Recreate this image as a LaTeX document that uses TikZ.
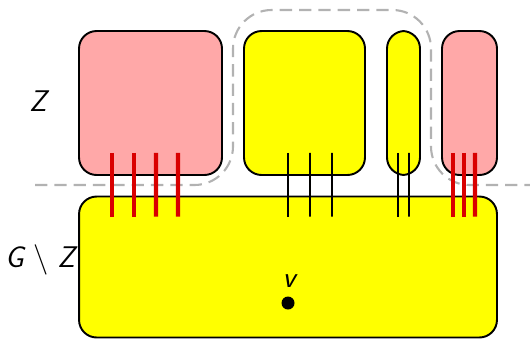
\documentclass[tikz,border=0pt]{standalone}
\usetikzlibrary{calc}
\definecolor{partyellow}{RGB}{255,255,0}
\definecolor{partpink}{RGB}{255,168,168}
\begin{document}
\begin{tikzpicture}[x=0.02cm,y=-0.02cm,
  every node/.style={font=\fontsize{17}{19}\selectfont\sffamily\itshape},
  part/.style={draw,line width=1.1pt,rounded corners=10pt,inner sep=0pt},
  redlink/.style={draw=red!85!black,line width=2.4pt},
  blacklink/.style={draw=black,line width=1pt}]
\useasboundingbox (0,0) rectangle (530,339);
% the big rest of the graph
\node[part,fill=partyellow,minimum width=8.36cm,minimum height=2.82cm] (rest) at (288,267) {};
% the parts of Z
\node[part,fill=partpink,minimum width=2.86cm,minimum height=2.88cm] (zA) at (150.5,103) {};
\node[part,fill=partyellow,minimum width=2.42cm,minimum height=2.88cm] (zB) at (304.5,103) {};
\node[part,fill=partyellow,minimum width=0.66cm,minimum height=2.88cm] (zC) at (403.5,103) {};
\node[part,fill=partpink,minimum width=1.10cm,minimum height=2.88cm] (zD) at (469.5,103) {};
% separator
\draw[gray!60,line width=1.2pt,dash pattern=on 7pt off 4pt,rounded corners=22pt]
  (35,185) -- (233,185) -- (233,10) -- (431,10) -- (431,185) -- (530,185);
% links between the parts
\foreach \dx in {-38.5,-16.5,5.5,27.5}
  \draw[redlink] ($(zA.south)+(\dx,-23)$) -- ($(rest.north)+(\dx-137.5,21)$);
\foreach \dx in {-16.5,5.5,27.5}
  \draw[blacklink] ($(zB.south)+(\dx,-23)$) -- ($(rest.north)+(\dx+16.5,21)$);
\foreach \dx in {-5.5,5.5}
  \draw[blacklink] ($(zC.south)+(\dx,-23)$) -- ($(rest.north)+(\dx+115.5,21)$);
\foreach \dx in {-16.5,-5.5,5.5}
  \draw[redlink] ($(zD.south)+(\dx,-23)$) -- ($(rest.north)+(\dx+181.5,21)$);
% vertex and labels
\fill (288,303) circle (6.5);
\node (v) at (289,281) {v};
\node (zlabel) at (38,101) {Z};
\node (restlabel) at (40,260) {G $\setminus$ Z};
\end{tikzpicture}
\end{document}
